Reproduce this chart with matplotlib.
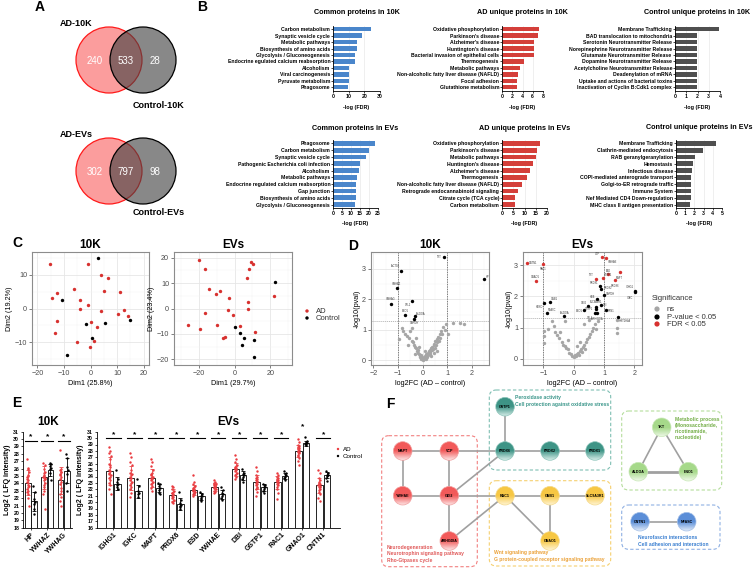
import numpy as np
import matplotlib
matplotlib.use('Agg')
import matplotlib.pyplot as plt
from matplotlib.patches import Circle, FancyBboxPatch
from matplotlib.colors import LinearSegmentedColormap
from matplotlib.ticker import AutoMinorLocator

plt.rcParams['font.family'] = ['Liberation Sans', 'DejaVu Sans']

W, H = 753, 569
fig = plt.figure(figsize=(W / 100, H / 100), dpi=100)


def rect(x0, y0, x1, y1):
    return [x0 / W, 1 - y1 / H, (x1 - x0) / W, (y1 - y0) / H]


def ftext(x, y, s, **kw):
    fig.text(x / W, 1 - y / H, s, **kw)


# ---------------- data ----------------
venn_10k = [240, 533, 28]
venn_evs = [302, 797, 98]

common_10k_labels = ['Carbon metabolism', 'Synaptic vesicle cycle', 'Metabolic pathways',
                     'Biosynthesis of amino acids', 'Glycolysis / Gluconeogenesis',
                     'Endocrine egulated calcium reabsorption', 'Alcoholism',
                     'Viral carcinogenesis', 'Pyruvate metabolism', 'Phagosome']
common_10k_vals = [24.2, 18.2, 15.6, 15.6, 14.3, 13.9, 10.3, 10.3, 10.0, 9.6]
ad_10k_labels = ['Oxidative phosphorylation', "Parkinson's disease", "Alzheimer's disease",
                 "Huntington's disease", 'Bacterial invasion of epithelial cells', 'Thermogenesis',
                 'Metabolic pathways', 'Non-alcoholic fatty liver disease (NAFLD)',
                 'Focal adhesion', 'Glutathione metabolism']
ad_10k_vals = [7.2, 7.0, 6.3, 6.3, 6.3, 4.3, 3.5, 3.2, 2.9, 2.9]
ctrl_10k_labels = ['Membrane Trafficking', 'BAD translocation to mitochondria',
                   'Serotonin Neurotransmitter Release', 'Norepinephrine Neurotransmitter Release',
                   'Glutamate Neurotransmitter Release ', 'Dopamine Neurotransmitter Release',
                   'Acetylcholine Neurotransmitter Release', 'Deadenylation of mRNA',
                   'Uptake and actions of bacterial toxins', 'Inactivation of Cyclin B:Cdk1 complex']
ctrl_10k_vals = [3.9, 1.95, 1.95, 1.95, 1.95, 1.95, 1.95, 1.95, 1.95, 1.95]

common_ev_labels = ['Phagosome', 'Carbon metabolism', 'Synaptic vesicle cycle',
                    'Pathogenic Escherichia coli infection', 'Alcoholism', 'Metabolic pathways',
                    'Endocrine regulated calcium reabsorption', 'Gap junction',
                    'Biosynthesis of amino acids', 'Glycolysis / Gluconeogenesis']
common_ev_vals = [23.3, 20.0, 18.3, 15.0, 14.5, 13.4, 13.0, 12.6, 12.6, 12.2]
ad_ev_labels = ['Oxidative phosphorylation', "Parkinson's disease", 'Metabolic pathways',
                "Huntington's disease", "Alzheimer's disease", 'Thermogenesis',
                'Non-alcoholic fatty liver disease (NAFLD)', 'Retrograde endocannabinoid signaling',
                'Citrate cycle (TCA cycle)', 'Carbon metabolism']
ad_ev_vals = [17.0, 15.7, 15.2, 13.8, 12.4, 11.0, 9.0, 7.0, 5.6, 5.8]
ctrl_ev_labels = ['Membrane Trafficking', 'Clathrin-mediated endocytosis', 'RAB geranylgeranylation',
                  'Hemostasis', 'Infectious disease', 'COPI-mediated anterograde transport',
                  'Golgi-to-ER retrograde traffic', 'Immune System',
                  'Nef Mediated CD4 Down-regulation', 'MHC class II antigen presentation']
ctrl_ev_vals = [4.4, 2.9, 2.1, 1.8, 1.75, 1.65, 1.65, 1.65, 1.6, 1.5]

pca10k_ad_x = [-15.4, -14.4, -12.6, -13.2, -12.6, -6.3, -4.1, -4.1, -0.9, -0.9, 0.0, 2.3, 3.8, 4.1,
               5.0, 6.4, 11.0, 12.6, 10.4, 14.0, -5.0, -0.1, 1.5]
pca10k_ad_y = [13.1, 3.1, 4.5, -7.4, -3.7, 5.9, 2.5, 0.0, 1.1, 13.2, -4.1, -5.5, 9.9, -0.6,
               5.3, 9.0, 5.0, -0.3, -1.6, -2.1, -10.0, -11.4, -9.7]
pca10k_ct_x = [2.7, -10.9, -1.6, 5.4, 14.7, 0.7, -9.0]
pca10k_ct_y = [15.1, 2.5, -4.6, -4.2, -3.5, -8.9, -13.8]

pcaev_ad_x = [-26.0, -19.6, -16.4, -14.1, -16.4, -19.0, -10.2, -8.0, -9.7, -3.0, -3.5, -0.9, -6.5,
              -5.4, 2.8, 6.7, 7.8, 9.2, 10.1, 7.3, 7.7, 11.6, 22.2]
pcaev_ad_y = [-6.6, 18.9, 15.6, 7.8, -1.6, -8.1, 5.6, 6.8, -6.4, 4.3, -0.7, -2.5, -11.6,
              -11.1, -6.8, 12.0, 15.6, 18.2, 17.6, 2.5, -0.2, -9.4, 5.1]
pcaev_ct_x = [0.4, 2.8, 5.4, 3.9, 11.0, 10.6, 22.7]
pcaev_ct_y = [-7.4, -9.5, -11.7, -14.2, -12.5, -19.0, 10.3]

# volcano 10K
v10_ns_x = [-0.85, -0.78, -0.7, -0.62, -0.55, -0.5, -0.45, -0.42, -0.4, -0.35, -0.3, -0.28, -0.25,
            -0.22, -0.2, -0.18, -0.15, -0.12, -0.1, -0.08, -0.05, -0.03, 0.0, 0.02, 0.05, 0.08,
            0.1, 0.12, 0.15, 0.18, 0.2, 0.22, 0.25, 0.28, 0.3, 0.32, 0.35, 0.38, 0.4, 0.42, 0.45,
            0.48, 0.5, 0.52, 0.55, 0.58, 0.6, 0.62, 0.65, 0.7, 0.72, 0.75, 0.8, 0.82, 0.9, 0.95,
            1.05, 1.25, 1.5, 1.7, -0.95, -0.6, -0.3, 0.1, 0.35, 0.6, -0.15, 0.45]
v10_ns_y = [1.05, 0.95, 0.85, 0.8, 0.72, 0.95, 0.65, 1.05, 0.6, 0.5, 0.45, 0.75, 0.4,
            0.3, 0.35, 0.25, 0.2, 0.15, 0.1, 0.18, 0.05, 0.12, 0.02, 0.08, 0.04, 0.1,
            0.15, 0.06, 0.2, 0.12, 0.25, 0.18, 0.3, 0.22, 0.35, 0.28, 0.4, 0.33, 0.45, 0.38, 0.5,
            0.55, 0.42, 0.62, 0.5, 0.7, 0.6, 0.78, 0.65, 0.85, 0.75, 0.95, 0.88, 1.1, 1.0, 1.2,
            0.85, 1.22, 1.22, 1.2, 0.7, 0.5, 0.2, 0.3, 0.15, 0.3, 0.45, 0.25]
v10_p_x = [0.875, -0.89, -1.05, -0.43, -1.28, -0.71, -0.31, -0.35, 2.5]
v10_p_y = [3.4, 2.94, 2.37, 1.96, 1.86, 1.49, 1.44, 1.36, 2.68]
v10_p_lab = ['TKT', 'ACTG1', 'YWHAZ', 'CFL1', 'YWHAG', 'ENO1', 'ALDOA', 'GAPDH', 'HP']
v10_p_off = [(-2, 0, 'right'), (-1, 3, 'right'), (0, 3, 'center'), (-1, -3, 'right'),
             (0, 3, 'center'), (0, 3, 'center'), (1, 2, 'left'), (0, -3, 'center'), (1, 1, 'left')]

# volcano EVs
vev_ns_x = [-0.97, -0.97, -0.97, -0.85, -0.72, -0.65, -0.6, -0.55, -0.5, -0.45, -0.4, -0.35, -0.3,
            -0.25, -0.2, -0.15, -0.1, -0.05, 0.0, 0.03, 0.06, 0.1, 0.13, 0.16, 0.2, 0.24, 0.28,
            0.3, 0.34, 0.38, 0.42, 0.45, 0.5, 0.55, 0.6, 0.65, 0.7, 0.75, 0.8, 0.5, 0.35, 1.43,
            1.43, 1.43, -0.3, 0.2, -0.2, 0.1]
vev_ns_y = [0.73, 0.5, 0.9, 0.95, 1.2, 1.05, 0.85, 0.75, 0.65, 0.85, 0.55, 0.45, 0.4,
            0.35, 0.3, 0.2, 0.15, 0.1, 0.05, 0.12, 0.08, 0.15, 0.2, 0.12, 0.25, 0.3, 0.22,
            0.38, 0.45, 0.32, 0.55, 0.62, 0.7, 0.8, 0.9, 1.0, 1.1, 0.95, 1.2, 1.25, 1.1, 1.24,
            1.0, 0.84, 1.2, 0.55, 0.6, 0.4]
vev_p_x = [-0.97, -0.79, -0.89, -0.32, 0.87, 0.91, 0.99, 0.78, 0.47, 0.35, 0.74, 0.72, 0.90,
           1.05, 0.77, 0.69, 2.01, 2.01, 1.45]
vev_p_y = [1.80, 1.83, 1.46, 1.38, 2.33, 2.25, 2.03, 1.92, 1.69, 1.57, 1.67, 1.61, 1.73,
           1.57, 1.46, 1.45, 2.18, 2.14, 1.33]
vev_p_lab = ['HOXD', 'GNB1', 'NFASC', 'ALDOA', 'PRDX1', 'PRDX2', 'GAPDH', 'HBB', 'GDI2', 'ENO1',
             'SLC9A3R1', 'GSTP1', 'DBI', 'PFN1', 'ARHGDIA', 'CFL1', 'IGHG1', 'IGKC', 'HIST1H4A']
vev_p_off = [(-1, -3, 'right'), (1, 2, 'left'), (1, 2, 'left'), (0, 2, 'center'),
             (-1, 2, 'right'), (1.5, 0.5, 'left'), (1.5, 1, 'left'), (-1.5, 1, 'right'),
             (-1, 2, 'right'), (-1.5, -1, 'right'), (0, 3, 'center'), (-1.5, 0, 'right'),
             (1.5, 0, 'left'), (1.5, -1, 'left'), (0, -4, 'center'), (-1.5, -3, 'right'),
             (-1, 3, 'right'), (-1, -4, 'right'), (1, -3, 'left')]
vev_f_x = [-1.53, -1.02, -1.25, 0.93, 1.07, 1.14, 1.51, 1.37, 0.96, 0.72]
vev_f_y = [3.08, 3.04, 2.49, 3.27, 3.24, 2.72, 2.78, 2.52, 2.58, 2.56]
vev_f_lab = ['CNTN1', 'RAC1', 'GNAO1', 'VCP', 'YWHAE', 'ESD', 'MAPT', 'PRDX6', 'GSTP1', 'TKT']
vev_f_off = [(1.5, 0, 'left'), (0, -4, 'center'), (0, 3, 'center'), (-1, 2, 'right'),
             (1.5, -3, 'left'), (0, 2, 'center'), (0, -4, 'center'), (0, -4, 'center'),
             (1, 2, 'left'), (-1, 2.5, 'right')]

# LFQ intensities
genes_10k = ['HP', 'YWHAZ', 'YWHAG']
ad_10k_mean = [24.1, 24.8, 24.4]
ad_10k_sd = [1.7, 1.6, 1.8]
ct_10k_mean = [21.6, 25.8, 25.7]
ct_10k_sd = [1.3, 0.8, 1.7]
ad_10k_pts = [[27.3, 26.1, 25.9, 25.5, 25.0, 24.6, 24.4, 24.2, 24.0, 23.8, 23.6, 23.5, 23.2, 23.0,
               22.8, 22.5, 22.0, 21.0, 25.2, 24.9],
              [26.7, 26.5, 26.0, 25.6, 25.2, 25.0, 24.9, 24.8, 24.6, 24.4, 24.1, 23.8, 23.5, 23.0,
               22.5, 20.5, 25.4, 24.7],
              [28.5, 26.0, 25.8, 25.6, 25.5, 25.1, 24.9, 24.6, 24.2, 23.9, 23.4, 23.0, 22.6, 22.1,
               21.6, 21.0, 25.3]]
ct_10k_pts = [[23.6, 22.8, 21.9, 21.5, 21.2, 20.5, 19.8],
              [26.8, 26.6, 26.3, 26.1, 25.9, 25.4, 24.4],
              [28.0, 27.5, 26.2, 25.8, 25.3, 24.0, 23.0]]

genes_ev = ['IGHG1', 'IGKC', 'MAPT', 'PRDX6', 'ESD', 'YWHAE', 'DBI', 'GSTP1', 'RAC1', 'GNAO1', 'CNTN1']
ad_ev_mean = [24.9, 23.8, 23.8, 21.1, 21.9, 22.4, 25.1, 23.1, 23.1, 28.0, 22.6]
ad_ev_sd = [2.2, 1.9, 1.4, 0.9, 0.8, 0.6, 1.0, 1.1, 1.0, 1.0, 1.2]
ct_ev_mean = [22.9, 21.7, 22.2, 19.7, 20.9, 21.2, 24.2, 22.3, 24.1, 29.2, 24.2]
ct_ev_sd = [1.0, 1.0, 0.6, 0.9, 0.5, 0.7, 0.7, 0.5, 0.5, 0.4, 0.5]
ad_ev_pts = [[28.6, 28.0, 27.6, 27.2, 26.8, 26.0, 25.5, 25.0, 24.8, 24.5, 24.2, 24.0, 23.8, 23.4, 23.0,
              22.6, 22.0, 21.2, 25.8, 24.4],
             [27.7, 27.0, 26.2, 25.8, 25.0, 24.6, 24.2, 24.0, 23.8, 23.5, 23.2, 23.0, 22.6, 22.4, 22.0,
              21.5, 20.8, 24.4],
             [26.8, 26.2, 25.6, 25.0, 24.6, 24.2, 24.0, 23.8, 23.6, 23.4, 23.2, 23.0, 22.8, 22.5, 22.2,
              21.8, 24.4, 23.9],
             [22.5, 22.3, 22.0, 21.8, 21.6, 21.4, 21.2, 21.0, 20.8, 20.6, 20.4, 20.2, 20.0, 19.8, 21.5,
              21.1],
             [24.2, 23.2, 22.8, 22.5, 22.3, 22.1, 22.0, 21.9, 21.8, 21.7, 21.6, 21.5, 21.3, 21.2, 21.0,
              21.9, 22.2],
             [23.4, 23.2, 23.0, 22.9, 22.7, 22.6, 22.5, 22.4, 22.3, 22.2, 22.1, 22.0, 21.8, 21.6, 21.4,
              22.5, 22.8],
             [27.3, 26.8, 26.2, 25.8, 25.6, 25.4, 25.2, 25.1, 25.0, 24.8, 24.6, 24.4, 24.2, 24.0, 23.6,
              25.3, 25.5],
             [25.5, 24.8, 24.3, 24.0, 23.6, 23.4, 23.2, 23.0, 22.8, 22.6, 22.4, 22.2, 22.0, 21.6, 21.0,
              23.3, 23.7],
             [24.6, 24.3, 24.0, 23.8, 23.6, 23.4, 23.2, 23.1, 23.0, 22.8, 22.6, 22.4, 22.0, 21.5, 20.5,
              23.5, 23.3],
             [29.8, 29.4, 29.0, 28.8, 28.6, 28.4, 28.2, 28.0, 27.9, 27.8, 27.6, 27.4, 27.2, 26.9, 26.5,
              25.8, 28.3, 28.5],
             [25.0, 24.6, 23.8, 23.4, 23.2, 23.0, 22.8, 22.6, 22.5, 22.3, 22.1, 21.9, 21.6, 21.2, 20.7,
              20.2, 22.9, 22.4]]
ct_ev_pts = [[25.0, 23.6, 23.2, 22.9, 22.6, 22.3, 22.0],
             [23.6, 22.5, 21.8, 21.5, 21.2, 20.8],
             [23.0, 22.8, 22.5, 22.2, 21.9, 21.5, 21.2],
             [21.6, 20.4, 19.9, 19.6, 19.4, 19.2, 19.0],
             [21.6, 21.2, 21.0, 20.9, 20.7, 20.5, 20.2],
             [22.4, 21.9, 21.5, 21.2, 20.9, 20.6, 20.3],
             [25.1, 24.6, 24.4, 24.2, 23.9, 23.6, 23.2],
             [22.8, 22.6, 22.4, 22.3, 22.1, 21.8, 21.4],
             [24.8, 24.6, 24.4, 24.2, 24.0, 23.8, 23.4],
             [30.1, 29.6, 29.4, 29.3, 29.2, 29.1, 28.9],
             [24.8, 24.5, 24.3, 24.2, 24.1, 23.8, 23.3]]

# ---------------- panel B ----------------
def bar_panel(box, labels, vals, color, xmax, step, title, ty, ly):
    ax = fig.add_axes(rect(*box))
    pos = np.arange(len(vals))
    ax.barh(pos, vals, height=0.68, color=color, zorder=2)
    ax.set_ylim(len(vals) - 0.5, -0.5)
    ax.set_yticks(pos)
    ax.set_yticklabels(labels, fontsize=3.7, fontweight='bold')
    ax.set_xlim(0, xmax)
    ax.set_xticks(np.arange(0, xmax + 0.01, step))
    for lab in ax.get_xticklabels():
        lab.set_fontweight('bold')
    ax.tick_params(axis='x', labelsize=3.7, length=1.5, width=0.5, pad=1)
    ax.tick_params(axis='y', length=1.5, width=0.5, pad=0.5)
    ax.grid(axis='x', color='#e3e3e3', lw=0.4)
    ax.set_axisbelow(True)
    for s in ['top', 'right']:
        ax.spines[s].set_visible(False)
    for s in ['left', 'bottom']:
        ax.spines[s].set_linewidth(0.6)
    cx = (box[0] + box[2]) / 2
    ftext(cx, ty, title, fontsize=5.2, fontweight='bold', ha='center', va='center')
    ftext(cx, ly, '-log (FDR)', fontsize=3.9, fontweight='bold', ha='center', va='center')


blue, red, dgrey = '#4a86cb', '#d43f3a', '#4f4f4f'
bar_panel((333, 26, 380, 90.5), common_10k_labels, common_10k_vals, blue, 30, 10,
          'Common proteins in 10K', 13, 107)
bar_panel((502, 26, 543, 90.5), ad_10k_labels, ad_10k_vals, red, 8, 2,
          'AD unique proteins in 10K', 13, 107)
bar_panel((675, 26, 720, 90.5), ctrl_10k_labels, ctrl_10k_vals, dgrey, 4, 1,
          'Control unique proteins in 10K', 13, 107)
bar_panel((333, 140, 378, 208), common_ev_labels, common_ev_vals, blue, 25, 5,
          'Common proteins in EVs', 129, 224)
bar_panel((502, 140, 547, 208), ad_ev_labels, ad_ev_vals, red, 20, 5,
          'AD unique proteins in EVs', 129, 224)
bar_panel((676, 140, 722, 208), ctrl_ev_labels, ctrl_ev_vals, dgrey, 5, 1,
          'Control unique proteins in EVs', 127, 224)


# ---------------- panel C / D styling ----------------
def gg_style(ax):
    ax.set_facecolor('white')
    for s in ax.spines.values():
        s.set_color('#8c8c8c')
        s.set_linewidth(0.8)
    ax.xaxis.set_minor_locator(AutoMinorLocator(2))
    ax.yaxis.set_minor_locator(AutoMinorLocator(2))
    ax.grid(True, which='major', color='#e6e6e6', lw=0.6)
    ax.grid(True, which='minor', color='#f3f3f3', lw=0.35)
    ax.set_axisbelow(True)
    ax.tick_params(which='major', labelsize=5.2, labelcolor='#4d4d4d', color='#4d4d4d',
                   length=2, width=0.5, pad=1.5)
    ax.tick_params(which='minor', length=0)


ax = fig.add_axes(rect(32, 252, 149, 365))
gg_style(ax)
ax.scatter(pca10k_ad_x, pca10k_ad_y, s=6, color='#d7312f', lw=0, zorder=3)
ax.scatter(pca10k_ct_x, pca10k_ct_y, s=6, color='black', lw=0, zorder=3)
ax.set_xlim(-22, 22)
ax.set_ylim(-16.8, 16.8)
ax.set_xticks([-20, -10, 0, 10, 20])
ax.set_yticks([-10, 0, 10])
ax.set_xlabel('Dim1 (25.8%)', fontsize=5.2, labelpad=2)
ax.set_ylabel('Dim2 (19.2%)', fontsize=5.2, labelpad=1)
ax.set_title('10K', fontsize=8.5, fontweight='bold', pad=3)

ax = fig.add_axes(rect(174, 252, 292, 365))
gg_style(ax)
ax.scatter(pcaev_ad_x, pcaev_ad_y, s=6, color='#d7312f', lw=0, zorder=3)
ax.scatter(pcaev_ct_x, pcaev_ct_y, s=6, color='black', lw=0, zorder=3)
ax.set_xlim(-33.7, 32)
ax.set_ylim(-22.2, 22.2)
ax.set_xticks([-20, 0, 20])
ax.set_yticks([-20, -10, 0, 10, 20])
ax.set_xlabel('Dim1 (29.7%)', fontsize=5.2, labelpad=2)
ax.set_ylabel('Dim2 (23.4%)', fontsize=5.2, labelpad=1)
ax.set_title('EVs', fontsize=8.5, fontweight='bold', pad=3)


def label_points(ax, xs, ys, labs, offs):
    for x, y, t, (dx, dy, ha) in zip(xs, ys, labs, offs):
        ax.annotate(t, (x, y), xytext=(dx, dy), textcoords='offset points', fontsize=1.8,
                    color='#333333', ha=ha, va='center', zorder=5)


def volcano(box, ns_x, ns_y, p_x, p_y, p_lab, p_off, f_x, f_y, f_lab, f_off, xlim, ylim, xt,
            title):
    ax = fig.add_axes(rect(*box))
    gg_style(ax)
    ax.scatter(ns_x, ns_y, s=6, color='#a6a6a6', lw=0, zorder=3)
    ax.scatter(p_x, p_y, s=6, color='black', lw=0, zorder=4)
    label_points(ax, p_x, p_y, p_lab, p_off)
    if f_x:
        ax.scatter(f_x, f_y, s=6, color='#d7312f', lw=0, zorder=4)
        label_points(ax, f_x, f_y, f_lab, f_off)
    ax.axvline(-1, color='#555555', lw=0.5, ls=(0, (2, 1.5)), zorder=2)
    ax.axvline(1, color='#555555', lw=0.5, ls=(0, (2, 1.5)), zorder=2)
    ax.axhline(1.3, color='#888888', lw=0.4, ls=(0, (2, 1.5)), zorder=2)
    ax.set_xlim(*xlim)
    ax.set_ylim(*ylim)
    ax.set_xticks(xt)
    ax.set_yticks([0, 1, 2, 3])
    ax.set_xlabel('log2FC (AD \u2013 control)', fontsize=5.2, labelpad=2)
    ax.set_ylabel('-log10(pval)', fontsize=5.2, labelpad=1)
    ax.set_title(title, fontsize=8.5, fontweight='bold', pad=3)


volcano((371, 252, 489, 365), v10_ns_x, v10_ns_y, v10_p_x, v10_p_y, v10_p_lab, v10_p_off,
        [], [], [], [], (-2.1, 2.7), (-0.15, 3.55), [-2, -1, 0, 1, 2], '10K')
volcano((523, 252, 642, 365), vev_ns_x, vev_ns_y, vev_p_x, vev_p_y, vev_p_lab, vev_p_off,
        vev_f_x, vev_f_y, vev_f_lab, vev_f_off, (-1.67, 2.25), (-0.2, 3.42), [-1, 0, 1, 2], 'EVs')


# ---------------- panel E ----------------
def lfq_panel(box, genes, am, asd, cm, csd, apts, cpts, ylo, sig_y, xpad, width, off):
    ax = fig.add_axes(rect(*box))
    pos = np.arange(len(genes))
    jit = [-0.09, 0.06, -0.03, 0.09, 0.0, -0.06, 0.03]
    ax.bar(pos - off, np.array(am) - ylo, width, bottom=ylo, facecolor='white',
           edgecolor='black', lw=0.6, zorder=2)
    ax.bar(pos + off, np.array(cm) - ylo, width, bottom=ylo, facecolor='white',
           edgecolor='black', lw=0.6, zorder=2)
    ax.errorbar(pos - off, am, yerr=asd, fmt='none', ecolor='#e8474a', elinewidth=0.6,
                capsize=1.2, capthick=0.6, zorder=4)
    ax.errorbar(pos + off, cm, yerr=csd, fmt='none', ecolor='black', elinewidth=0.6,
                capsize=1.2, capthick=0.6, zorder=4)
    for i in range(len(genes)):
        xs = [pos[i] - off + jit[k % 7] * width * 1.6 for k in range(len(apts[i]))]
        ax.scatter(xs, apts[i], s=3, color='#ea3a3f', lw=0, zorder=3)
        xs = [pos[i] + off + jit[k % 7] * width * 1.6 for k in range(len(cpts[i]))]
        ax.scatter(xs, cpts[i], s=3, color='black', lw=0, zorder=3)
        sy = sig_y[i]
        ax.plot([pos[i] - off - width / 2, pos[i] + off + width / 2], [sy, sy],
                color='black', lw=0.8, zorder=3)
        ax.text(pos[i], sy + 0.05, '*', fontsize=6, fontweight='bold', ha='center', va='bottom')
    ax.set_ylim(ylo, 31)
    ax.set_yticks(np.arange(ylo, 32, 1))
    ax.set_xlim(-xpad, len(genes) - 1 + xpad)
    ax.set_xticks(pos)
    ax.set_xticklabels(genes, rotation=45, ha='right', rotation_mode='anchor',
                       fontsize=5, fontweight='bold')
    for lab in ax.get_yticklabels():
        lab.set_fontweight('bold')
    ax.tick_params(axis='y', labelsize=3.8, length=1.5, width=0.5, pad=1)
    ax.tick_params(axis='x', length=1.5, width=0.5, pad=1)
    for s in ['top', 'right']:
        ax.spines[s].set_visible(False)
    for s in ['left', 'bottom']:
        ax.spines[s].set_linewidth(0.6)
    ax.set_ylabel('Log2 ( LFQ intensity)', fontsize=5, fontweight='bold', labelpad=2)
    return ax


lfq_panel((22.7, 431.7, 72, 527.7), genes_10k, ad_10k_mean, ad_10k_sd, ct_10k_mean, ct_10k_sd,
          ad_10k_pts, ct_10k_pts, 18, [29.8, 29.8, 29.8], 0.5, 0.34, 0.19)
ftext(48, 422, '10K', fontsize=8.5, fontweight='bold', ha='center', va='center')
lfq_panel((96.7, 431.7, 340, 527.7), genes_ev, ad_ev_mean, ad_ev_sd, ct_ev_mean, ct_ev_sd,
          ad_ev_pts, ct_ev_pts, 16, [30.0] * 9 + [31.2, 30.0], 0.8, 0.32, 0.18)
ftext(228, 422, 'EVs', fontsize=8.5, fontweight='bold', ha='center', va='center')

# ---------------- overlay: A, legends, F ----------------
ov = fig.add_axes([0, 0, 1, 1])
ov.set_xlim(0, W)
ov.set_ylim(H, 0)
ov.axis('off')

for lab, x, y in [('A', 40, 7), ('B', 202, 7), ('C', 17, 243), ('D', 353, 246),
                  ('E', 17, 403), ('F', 390, 404)]:
    ov.text(x, y, lab, fontsize=10, fontweight='bold', ha='center', va='center')


def venn(cy, counts, top_lab, bot_lab, bot_y):
    ov.add_patch(Circle((109, cy), 33, facecolor='#fb9d9d', edgecolor='#ff1a1a', lw=0.9, zorder=2))
    ov.add_patch(Circle((143, cy), 33, facecolor='#404040', alpha=0.62, edgecolor='none', zorder=3))
    ov.add_patch(Circle((143, cy), 33, facecolor='none', edgecolor='black', lw=0.9, zorder=4))
    for x, c in zip([95, 126, 155], counts):
        ov.text(x, cy + 1, str(c), color='white', fontsize=7, ha='center', va='center', zorder=5)
    ov.text(60, cy - 37, top_lab, fontsize=6.5, fontweight='bold', ha='left', va='center')
    ov.text(133, bot_y, bot_lab, fontsize=6.5, fontweight='bold', ha='left', va='center')


venn(60, venn_10k, 'AD-10K', 'Control-10K', 105)
venn(171, venn_evs, 'AD-EVs', 'Control-EVs', 212)

# PCA legend
ov.scatter([307, 307], [311, 318], s=6, color=['#d7312f', 'black'], lw=0)
ov.text(316, 311, 'AD', fontsize=5.5, va='center', color='#333333')
ov.text(316, 318, 'Control', fontsize=5.5, va='center', color='#333333')

# volcano legend
ov.text(652, 298, 'Significance', fontsize=5.5, va='center', color='#333333')
ov.scatter([657, 657, 657], [309, 317, 324], s=14, color=['#a6a6a6', 'black', '#d7312f'], lw=0)
for y, t in zip([309, 317, 324], ['ns', 'P-value < 0.05', 'FDR < 0.05']):
    ov.text(667, y, t, fontsize=5.5, va='center', color='#333333')

# LFQ legend
ov.scatter([338, 338], [449, 456], s=3, color=['#ea3a3f', 'black'], lw=0)
ov.text(343, 449, 'AD', fontsize=4.5, va='center')
ov.text(343, 456, 'Control', fontsize=4.5, va='center')

# ---------------- panel F network ----------------
pal = {'r': ('#f25a5a', '#fde3e3', '#f2a0a0'),
       't': ('#3e9486', '#d3ebe6', '#8cc4ba'),
       'y': ('#f7c743', '#fff4d2', '#f5d98a'),
       'g': ('#a6d98a', '#f0f9ea', '#c8e8b6'),
       'b': ('#5b8ed8', '#e2ecfa', '#a3bfe8')}
nodes = {'GSTP1': (505, 406.7, 't'), 'MAPT': (402.7, 451, 'r'), 'VCP': (449.3, 451, 'r'),
         'PRDX6': (505, 451, 't'), 'PRDX2': (550, 451, 't'), 'PRDX1': (595, 451, 't'),
         'YWHAE': (402.7, 495.7, 'r'), 'GDI2': (449.3, 495.7, 'r'), 'RAC1': (505, 495.7, 'y'),
         'GNB1': (550, 495.7, 'y'), 'SLC9A3R1': (595, 495.7, 'y'), 'ARHGDIA': (449.3, 541, 'r'),
         'GNAO1': (550, 541, 'y'), 'TKT': (661.7, 427.3, 'g'), 'ALDOA': (638.3, 471.7, 'g'),
         'ENO1': (688.3, 471.7, 'g'), 'CNTN1': (640, 521.7, 'b'), 'NFASC': (686.7, 521.7, 'b')}
edges = [('MAPT', 'VCP'), ('MAPT', 'YWHAE'), ('VCP', 'GDI2'), ('VCP', 'PRDX6'), ('YWHAE', 'GDI2'),
         ('GDI2', 'PRDX6'), ('GDI2', 'RAC1'), ('GDI2', 'ARHGDIA'), ('ARHGDIA', 'RAC1'),
         ('GSTP1', 'PRDX6'), ('PRDX6', 'PRDX2'), ('PRDX2', 'PRDX1'), ('RAC1', 'GNB1'),
         ('GNB1', 'SLC9A3R1'), ('GNB1', 'GNAO1'), ('RAC1', 'GNAO1'), ('TKT', 'ALDOA'),
         ('TKT', 'ENO1'), ('ALDOA', 'ENO1'), ('CNTN1', 'NFASC')]

boxes = [((381.7, 435.7, 477.3, 566.7), '#f28080'), ((489.3, 390, 610.7, 470), '#7fbfb3'),
         ((489.3, 480.7, 610.7, 566), '#f5d070'), ((621.7, 411, 721.7, 490), '#b5dd9c'),
         ((621.7, 505, 720, 549.3), '#8fb0e3')]
for (x0, y0, x1, y1), c in boxes:
    ov.add_patch(FancyBboxPatch((x0, y0), x1 - x0, y1 - y0,
                                boxstyle='round,pad=0,rounding_size=7', facecolor='none',
                                edgecolor=c, lw=0.8, ls=(0, (3, 2)), zorder=1))

for a, b in edges:
    lw = 2.0 if (a, b) == ('ALDOA', 'ENO1') else 1.2
    ov.plot([nodes[a][0], nodes[b][0]], [nodes[a][1], nodes[b][1]], color='#a0a0a0',
            lw=lw, zorder=2, solid_capstyle='butt')

grad = np.linspace(0, 1, 64).reshape(-1, 1)
r = 9.3
for name, (x, y, g) in nodes.items():
    ctop, cbot, cedge = pal[g]
    cmap = LinearSegmentedColormap.from_list(name, [ctop, ctop, cbot])
    im = ov.imshow(grad, cmap=cmap, extent=[x - r, x + r, y + r, y - r], aspect='auto',
                   interpolation='bilinear', zorder=3)
    circ = Circle((x, y), r, facecolor='none', edgecolor=cedge, lw=0.5, zorder=4)
    ov.add_patch(circ)
    im.set_clip_path(circ)
    ov.text(x, y, name, fontsize=2.6, fontweight='bold', ha='center', va='center', zorder=5)

notes = [(515, [397.7, 404.5], ['Peroxidase activity', 'Cell protection against oxidative stress'],
          '#3a968a'),
         (386.7, [547.7, 554, 560.3], ['Neurodegeneration', 'Neurotrophin signaling pathway',
                                       'Rho-Gtpases cycle'], '#e05b5b'),
         (494, [552.7, 559.5], ['Wnt signaling pathway',
                                'G protein-coupled receptor signaling pathway'], '#eba23a'),
         (675, [419, 425, 431, 437], ['Metabolic process', '(Monosaccharide,', 'nicotinamide,',
                                      'nucleotide)'], '#72ad45'),
         (637.7, [537.7, 544], ['Neurofascin interactions', 'Cell adhesion and interaction'],
          '#3a7fd0')]
for x, ys, lines, c in notes:
    for y, t in zip(ys, lines):
        ov.text(x, y, t, fontsize=3.6, fontweight='bold', color=c, ha='left', va='center')

ov.set_xlim(0, W)
ov.set_ylim(H, 0)

fig.savefig('out.png', dpi=100)
